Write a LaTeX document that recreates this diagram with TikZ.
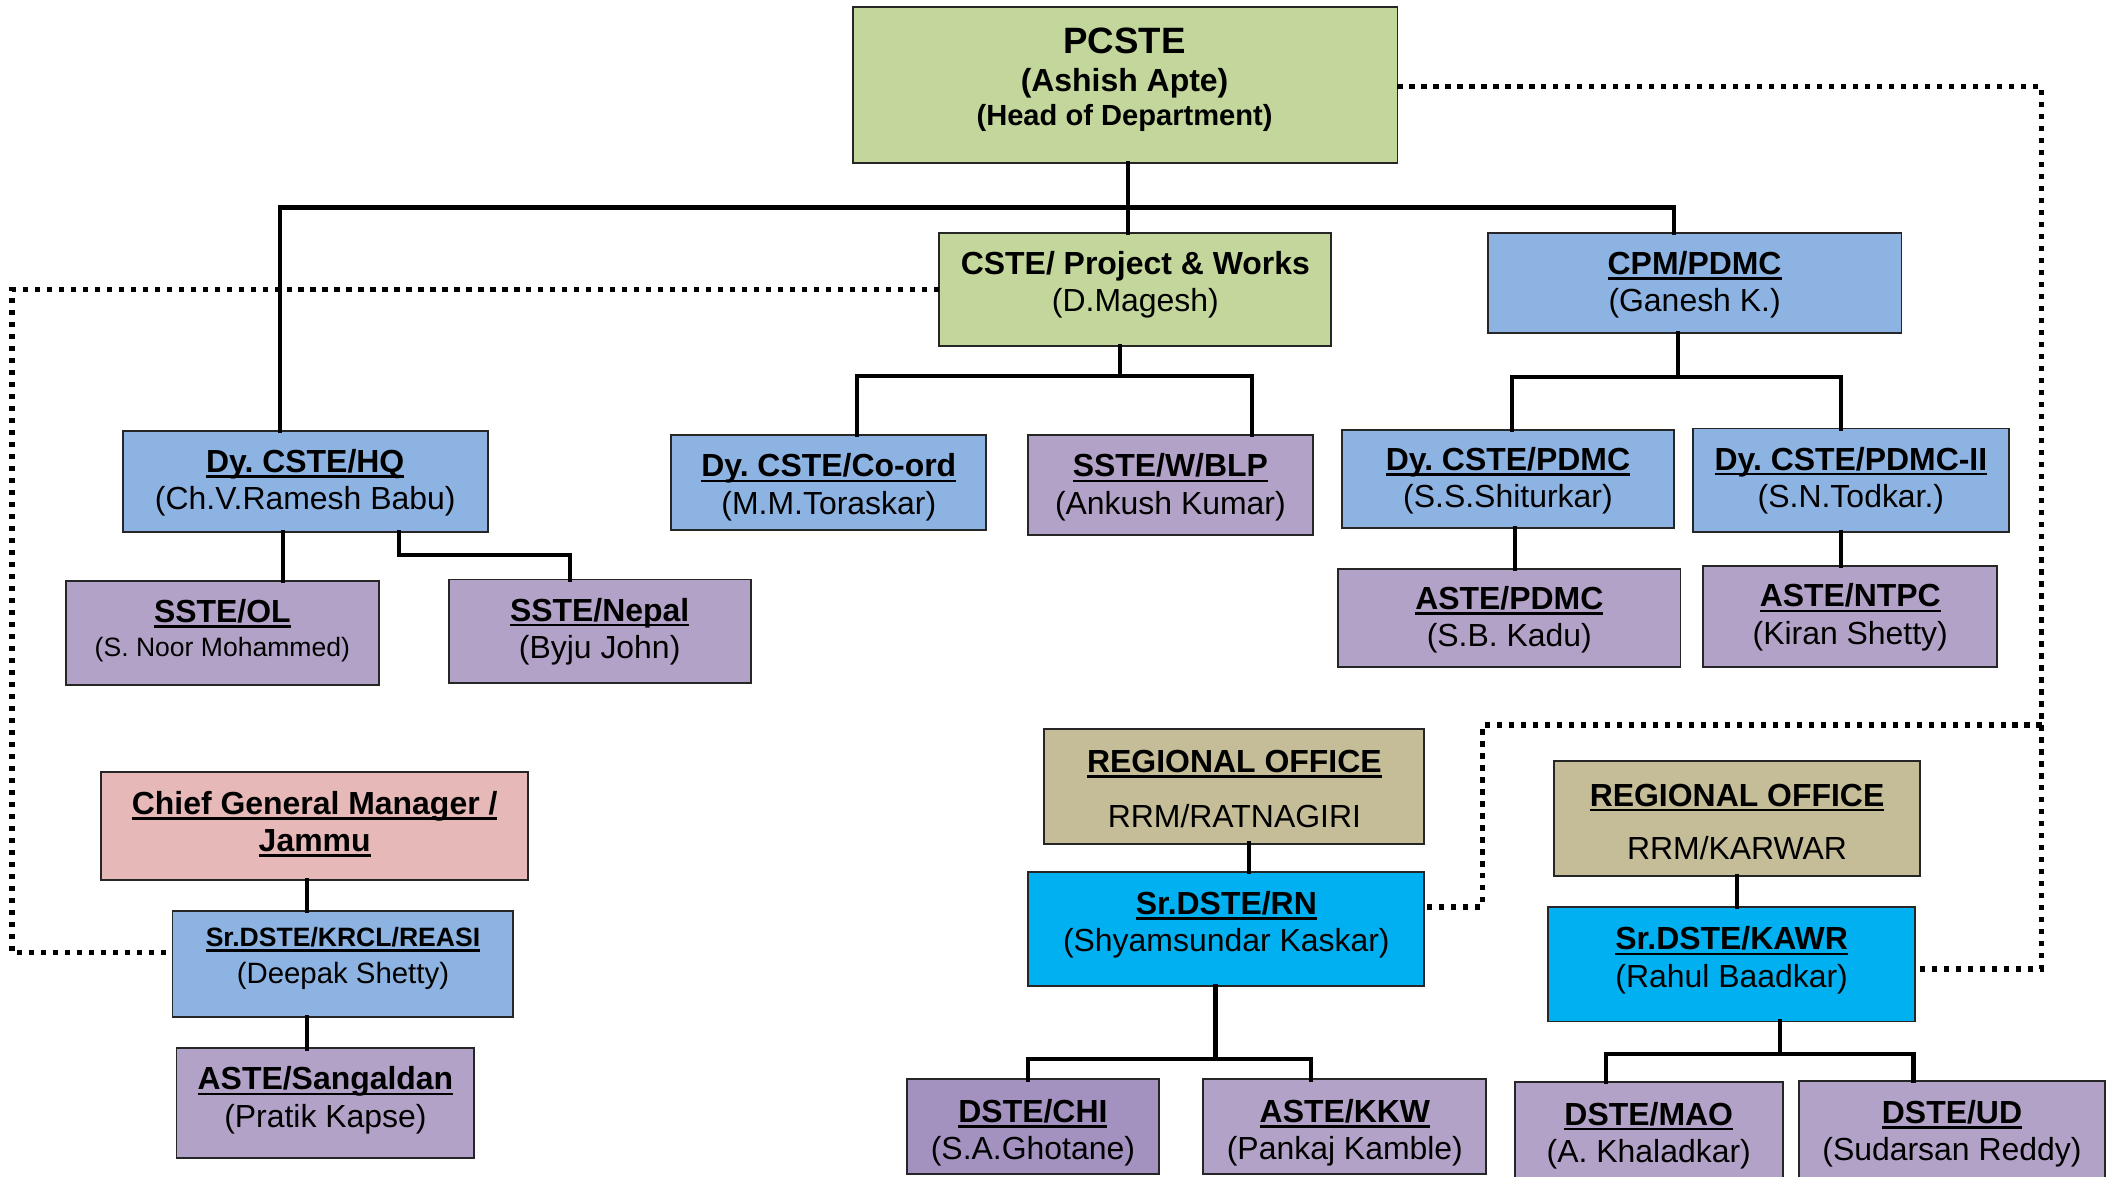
\documentclass[tikz,border=0pt]{standalone}
\usepackage{fontspec}
\setmainfont{Liberation Sans}
\usetikzlibrary{calc}
\frenchspacing
\definecolor{cgreen}{HTML}{C3D69B}
\definecolor{cblue}{HTML}{8DB3E2}
\definecolor{cpurple}{HTML}{B3A2C7}
\definecolor{cpurpled}{HTML}{A391BF}
\definecolor{ccyan}{HTML}{00B0F0}
\definecolor{ctan}{HTML}{C4BD97}
\definecolor{cpink}{HTML}{E6B9B8}
\newcommand{\uln}[1]{\setbox0\hbox{#1}\leavevmode\rlap{\rule[-2pt]{\wd0}{1pt}}\box0}
\newcommand{\ttl}[1]{\uln{\textbf{#1}}}
\newcommand{\obox}[8]{%
  \node[box,fill=#6,minimum width={(#4-#2)*0.5pt},minimum height={(#5-#3)*0.5pt}] (#1) at ({(#2+#4)/2},{(#3+#5)/2}) {};
  \node[txt] (#1-t) at ({(#2+#4)/2},{#7+1.5}) {#8};}
\begin{document}
\begin{tikzpicture}[x=0.5pt,y=-0.5pt,
  box/.style={draw=black!85,line width=0.7pt,inner sep=0pt,outer sep=0pt,rectangle},
  txt/.style={font=\fontsize{11.85}{13.8}\selectfont\frenchspacing,align=center,inner sep=0pt},
  conn/.style={line width=1.6pt,line cap=rect,line join=miter},
  dotc/.style={line width=2pt,dash pattern=on 1.9pt off 2.55pt}]
\useasboundingbox (0,0) rectangle (1568,873);
\fill[white] (0,0) rectangle (1568,873);
% top
\node[box,fill=cgreen,minimum width={404*0.5pt},minimum height={116*0.5pt}] (pc) at (835,63) {};
\node[txt,font=\fontsize{13.6}{15}\selectfont\bfseries] (pc-1) at (834.5,30.5) {PCSTE};
\node[txt,font=\fontsize{11.85}{13.8}\selectfont\bfseries] (pc-2) at (834.5,61.5) {(Ashish Apte)};
\node[txt,font=\fontsize{10.8}{13}\selectfont\bfseries] (pc-3) at (834.5,87.5) {(Head of Department)};
\obox{pw}{697}{173}{988}{257}{cgreen}{210}{\textbf{CSTE/ Project \& Works}\\(D.Magesh)}
\obox{cpm}{1104}{173}{1411}{247}{cblue}{210}{\ttl{CPM/PDMC}\\(Ganesh K.)}
\obox{hq}{91}{320}{362}{395}{cblue}{357}{\ttl{Dy. CSTE/HQ}\\(Ch.V.Ramesh Babu)}
\obox{co}{498}{323}{732}{393}{cblue}{360}{\ttl{Dy. CSTE/Co-ord}\\(M.M.Toraskar)}
\obox{blp}{763}{323}{974}{397}{cpurple}{360}{\ttl{SSTE/W/BLP}\\(Ankush Kumar)}
\obox{pd1}{996}{319}{1242}{392}{cblue}{355.5}{\ttl{Dy. CSTE/PDMC}\\(S.S.Shiturkar)}
\obox{pd2}{1256}{318}{1491}{395}{cblue}{355}{\ttl{Dy. CSTE/PDMC-II}\\(S.N.Todkar.)}
\obox{ol}{49}{431}{281}{508}{cpurple}{466.5}{\ttl{SSTE/OL}\\[-1.2pt]{\fontsize{9.85}{11}\selectfont(S. Noor Mohammed)}}
\obox{np}{333}{430}{557}{507}{cpurple}{467}{\ttl{SSTE/Nepal}\\(Byju John)}
\obox{ap}{993}{422}{1247}{495}{cpurple}{458.5}{\ttl{ASTE/PDMC}\\(S.B. Kadu)}
\obox{an}{1264}{420}{1482}{495}{cpurple}{456.5}{\ttl{ASTE/NTPC}\\(Kiran Shetty)}
\obox{cgm}{75}{573}{392}{653}{cpink}{610}{\ttl{Chief General Manager /}\\\ttl{Jammu}}
\obox{kr}{128}{676}{381}{755}{cblue}{710}{{\fontsize{9.85}{11}\selectfont\ttl{Sr.DSTE/KRCL/REASI}}\\{\fontsize{10.9}{13}\selectfont(Deepak Shetty)}}
\obox{sg}{131}{778}{352}{859}{cpurple}{815}{\ttl{ASTE/Sangaldan}\\(Pratik Kapse)}
\obox{ro1}{775}{541}{1057}{626}{ctan}{584}{\ttl{REGIONAL OFFICE}\\[6.7pt]RRM/RATNAGIRI}
\obox{rn}{763}{647}{1057}{732}{ccyan}{684.5}{\ttl{Sr.DSTE/RN}\\(Shyamsundar Kaskar)}
\obox{ro2}{1153}{565}{1425}{650}{ctan}{608.5}{\ttl{REGIONAL OFFICE}\\[6.2pt]RRM/KARWAR}
\obox{kw}{1149}{673}{1421}{758}{ccyan}{711}{\ttl{Sr.DSTE/KAWR}\\(Rahul Baadkar)}
\obox{chi}{673}{801}{860}{871}{cpurpled}{839}{\ttl{DSTE/CHI}\\(S.A.Ghotane)}
\obox{kkw}{893}{801}{1103}{871}{cpurple}{839}{\ttl{ASTE/KKW}\\(Pankaj Kamble)}
\obox{mao}{1124}{803}{1323}{880}{cpurple}{841}{\ttl{DSTE/MAO}\\(A. Khaladkar)}
\obox{ud}{1335}{802}{1562}{880}{cpurple}{840}{\ttl{DSTE/UD}\\(Sudarsan Reddy)}
% solid connectors
\draw[conn] (pc.south -| 837,0) -- (pw.north -| 837,0);
\draw[conn] (hq.north -| 208,0) -- (208,154) -- (1242,154) -- (cpm.north -| 1242,0);
\draw[conn] (pw.south -| 831,0) -- (831,279);
\draw[conn] (co.north -| 636,0) -- (636,279) -- (929,279) -- (blp.north -| 929,0);
\draw[conn] (cpm.south -| 1245,0) -- (1245,280);
\draw[conn] (pd1.north -| 1122,0) -- (1122,280) -- (1366,280) -- (pd2.north -| 1366,0);
\draw[conn] (pd1.south -| 1124,0) -- (ap.north -| 1124,0);
\draw[conn] (pd2.south -| 1366,0) -- (an.north -| 1366,0);
\draw[conn] (hq.south -| 210,0) -- (ol.north -| 210,0);
\draw[conn] (hq.south -| 296,0) -- (296,412) -- (423,412) -- (np.north -| 423,0);
\draw[conn] (cgm.south -| 228,0) -- (kr.north -| 228,0);
\draw[conn] (kr.south -| 228,0) -- (sg.north -| 228,0);
\draw[conn] (ro1.south -| 927,0) -- (rn.north -| 927,0);
\draw[conn] (rn.south -| 902,0) -- (902,786);
\draw[conn] (chi.north -| 763,0) -- (763,786) -- (973,786) -- (kkw.north -| 973,0);
\draw[conn] (ro2.south -| 1289,0) -- (kw.north -| 1289,0);
\draw[conn] (kw.south -| 1321,0) -- (1321,782);
\draw[conn] (mao.north -| 1192,0) -- (1192,782) -- (1420,782) -- (ud.north -| 1420,0);
% dotted connectors
\draw[dotc] (pc.east |- 0,64) -- (1515,64) -- (1515,719) -- (kw.east |- 0,719);
\draw[dotc] (1515,538) -- (1100,538) -- (1100,673) -- (rn.east |- 0,673);
\draw[dotc] (pw.west |- 0,215) -- (9,215) -- (9,707) -- (kr.west |- 0,707);
\end{tikzpicture}
\end{document}
